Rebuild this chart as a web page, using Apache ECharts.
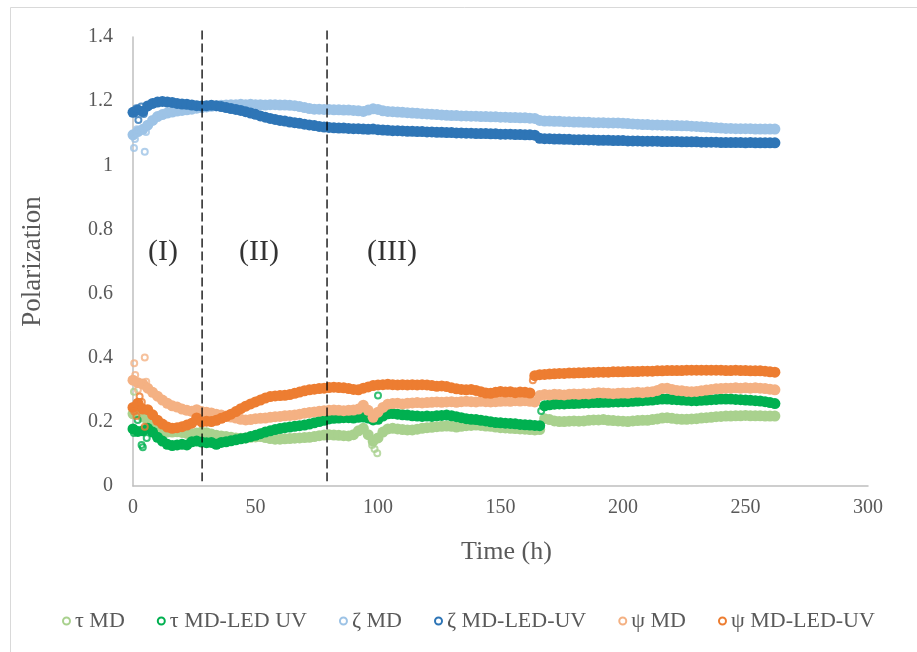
<!DOCTYPE html>
<html>
<head>
<meta charset="utf-8">
<script src="https://cdn.jsdelivr.net/npm/echarts@6/dist/echarts.min.js"></script>
<style>
  html, body { margin: 0; padding: 0; background: #fff; }
  #chart { width: 917px; height: 652px; }
</style>
</head>
<body>
<div id="chart"></div>
<script>
// Sampling times (h) shared by the six polarization traces
const hours = [
  0, 2, 4, 6, 8, 10, 12, 14, 16, 18,
  20, 22, 24, 26, 28, 30, 32, 34, 36, 38,
  40, 42, 44, 46, 48, 50, 52, 54, 56, 58,
  60, 62, 64, 66, 68, 70, 72, 74, 76, 78,
  80, 82, 84, 86, 88, 90, 92, 94, 96, 98,
  100, 102, 104, 106, 108, 110, 112, 114, 116, 118,
  120, 122, 124, 126, 128, 130, 132, 134, 136, 138,
  140, 142, 144, 146, 148, 150, 152, 154, 156, 158,
  160, 162, 164, 166, 168, 170, 172, 174, 176, 178,
  180, 182, 184, 186, 188, 190, 192, 194, 196, 198,
  200, 202, 204, 206, 208, 210, 212, 214, 216, 218,
  220, 222, 224, 226, 228, 230, 232, 234, 236, 238,
  240, 242, 244, 246, 248, 250, 252, 254, 256, 258,
  260, 262
];

// τ MD
const tauMd = [
  0.225, 0.230, 0.215, 0.205, 0.185, 0.176, 0.170, 0.168, 0.168, 0.169,
  0.167, 0.164, 0.163, 0.165, 0.168, 0.166, 0.162, 0.158, 0.156, 0.154,
  0.152, 0.150, 0.149, 0.150, 0.152, 0.153, 0.154, 0.151, 0.148, 0.146,
  0.146, 0.147, 0.148, 0.149, 0.150, 0.151, 0.152, 0.154, 0.157, 0.159,
  0.160, 0.159, 0.158, 0.157, 0.156, 0.160, 0.172, 0.180, 0.160, 0.140,
  0.150, 0.168, 0.178, 0.180, 0.178, 0.176, 0.175, 0.175, 0.177, 0.180,
  0.182, 0.183, 0.185, 0.186, 0.187, 0.186, 0.184, 0.186, 0.188, 0.189,
  0.190, 0.189, 0.187, 0.186, 0.184, 0.182, 0.181, 0.180, 0.179, 0.178,
  0.177, 0.176, 0.175, 0.176, 0.210, 0.207, 0.203, 0.201, 0.201, 0.202,
  0.203, 0.202, 0.203, 0.205, 0.206, 0.206, 0.207, 0.205, 0.204, 0.203,
  0.202, 0.201, 0.203, 0.204, 0.205, 0.205, 0.207, 0.209, 0.212, 0.213,
  0.211, 0.209, 0.208, 0.208, 0.209, 0.210, 0.212, 0.213, 0.214, 0.216,
  0.217, 0.218, 0.218, 0.219, 0.219, 0.220, 0.219, 0.219, 0.219, 0.218,
  0.218, 0.218
];

// τ MD-LED UV
const tauLed = [
  0.178, 0.170, 0.172, 0.180, 0.168, 0.152, 0.140, 0.130, 0.126, 0.128,
  0.130, 0.128, 0.138, 0.140, 0.137, 0.135, 0.136, 0.130, 0.136, 0.138,
  0.141, 0.144, 0.147, 0.150, 0.154, 0.158, 0.163, 0.168, 0.172, 0.176,
  0.179, 0.182, 0.184, 0.186, 0.188, 0.190, 0.193, 0.197, 0.201, 0.205,
  0.209, 0.211, 0.212, 0.213, 0.213, 0.212, 0.214, 0.215, 0.212, 0.206,
  0.208, 0.218, 0.225, 0.226, 0.224, 0.222, 0.221, 0.219, 0.218, 0.217,
  0.218, 0.217, 0.219, 0.220, 0.221, 0.219, 0.216, 0.213, 0.210, 0.208,
  0.207, 0.205, 0.203, 0.200, 0.198, 0.197, 0.196, 0.195, 0.194, 0.192,
  0.191, 0.190, 0.189, 0.188, 0.250, 0.253, 0.255, 0.256, 0.256, 0.257,
  0.257, 0.258, 0.259, 0.259, 0.260, 0.260, 0.261, 0.261, 0.262, 0.262,
  0.263, 0.263, 0.264, 0.265, 0.266, 0.267, 0.268, 0.270, 0.271, 0.271,
  0.270, 0.269, 0.268, 0.267, 0.266, 0.266, 0.267, 0.268, 0.269, 0.270,
  0.271, 0.271, 0.271, 0.270, 0.269, 0.268, 0.267, 0.266, 0.265, 0.263,
  0.260, 0.257
];

// ζ MD
const zetaMd = [
  1.095, 1.105, 1.112, 1.125, 1.140, 1.152, 1.158, 1.163, 1.166, 1.169,
  1.171, 1.173, 1.175, 1.178, 1.180, 1.182, 1.184, 1.185, 1.187, 1.188,
  1.189, 1.189, 1.190, 1.189, 1.190, 1.189, 1.189, 1.188, 1.189, 1.189,
  1.188, 1.188, 1.187, 1.186, 1.183, 1.180, 1.177, 1.175, 1.175, 1.174,
  1.174, 1.173, 1.173, 1.172, 1.172, 1.171, 1.170, 1.168, 1.172, 1.176,
  1.174, 1.170, 1.168, 1.167, 1.166, 1.165, 1.164, 1.163, 1.162, 1.161,
  1.160, 1.159, 1.158, 1.157, 1.156, 1.155, 1.155, 1.154, 1.154, 1.153,
  1.153, 1.152, 1.152, 1.151, 1.151, 1.150, 1.150, 1.149, 1.149, 1.148,
  1.148, 1.147, 1.146, 1.140, 1.138, 1.138, 1.137, 1.137, 1.136, 1.136,
  1.135, 1.135, 1.134, 1.134, 1.133, 1.133, 1.133, 1.132, 1.132, 1.132,
  1.131, 1.130, 1.129, 1.128, 1.127, 1.127, 1.126, 1.126, 1.125, 1.125,
  1.124, 1.124, 1.123, 1.123, 1.122, 1.121, 1.120, 1.119, 1.118, 1.117,
  1.116, 1.115, 1.115, 1.114, 1.114, 1.114, 1.114, 1.113, 1.113, 1.113,
  1.113, 1.113
];

// ζ MD-LED-UV
const zetaLed = [
  1.165, 1.172, 1.168, 1.185, 1.193, 1.197, 1.199, 1.197, 1.196, 1.193,
  1.191, 1.190, 1.188, 1.186, 1.185, 1.186, 1.187, 1.186, 1.183, 1.180,
  1.177, 1.174, 1.171, 1.167, 1.163, 1.159, 1.154, 1.150, 1.146, 1.143,
  1.140, 1.138, 1.135, 1.133, 1.131, 1.128, 1.126, 1.124, 1.121, 1.119,
  1.118, 1.117, 1.116, 1.116, 1.115, 1.114, 1.114, 1.113, 1.112, 1.113,
  1.111, 1.110, 1.109, 1.108, 1.108, 1.107, 1.106, 1.106, 1.105, 1.105,
  1.104, 1.104, 1.103, 1.103, 1.102, 1.102, 1.101, 1.101, 1.100, 1.100,
  1.099, 1.099, 1.099, 1.098, 1.098, 1.097, 1.097, 1.097, 1.096, 1.096,
  1.095, 1.095, 1.094, 1.084, 1.083, 1.083, 1.082, 1.082, 1.081, 1.081,
  1.080, 1.080, 1.080, 1.079, 1.079, 1.078, 1.078, 1.078, 1.077, 1.077,
  1.077, 1.076, 1.076, 1.076, 1.075, 1.075, 1.075, 1.075, 1.074, 1.074,
  1.074, 1.074, 1.073, 1.073, 1.073, 1.073, 1.072, 1.072, 1.072, 1.072,
  1.071, 1.071, 1.071, 1.071, 1.071, 1.070, 1.071, 1.070, 1.070, 1.070,
  1.070, 1.070
];

// ψ MD
const psiMd = [
  0.330, 0.322, 0.318, 0.305, 0.292, 0.280, 0.268, 0.258, 0.250, 0.246,
  0.240, 0.236, 0.233, 0.238, 0.232, 0.230, 0.228, 0.224, 0.221, 0.218,
  0.215, 0.212, 0.208, 0.206, 0.207, 0.210, 0.211, 0.212, 0.214, 0.216,
  0.217, 0.219, 0.220, 0.221, 0.224, 0.227, 0.229, 0.231, 0.233, 0.235,
  0.236, 0.237, 0.236, 0.235, 0.236, 0.237, 0.240, 0.252, 0.236, 0.214,
  0.230, 0.245, 0.255, 0.257, 0.258, 0.256, 0.258, 0.259, 0.260, 0.259,
  0.260, 0.261, 0.262, 0.261, 0.262, 0.263, 0.261, 0.263, 0.264, 0.263,
  0.262, 0.264, 0.263, 0.262, 0.263, 0.264, 0.265, 0.264, 0.266, 0.265,
  0.266, 0.264, 0.262, 0.282, 0.285, 0.284, 0.286, 0.285, 0.284, 0.286,
  0.287, 0.286, 0.288, 0.287, 0.289, 0.291, 0.290, 0.289, 0.288, 0.289,
  0.290, 0.289, 0.291, 0.292, 0.291, 0.293, 0.294, 0.298, 0.304, 0.305,
  0.301, 0.298, 0.297, 0.295, 0.294, 0.295, 0.297, 0.299, 0.301, 0.303,
  0.304, 0.305, 0.305, 0.306, 0.305, 0.306, 0.305, 0.306, 0.305, 0.304,
  0.302, 0.300
];

// ψ MD-LED-UV
const psiLed = [
  0.245, 0.258, 0.240, 0.238, 0.222, 0.205, 0.193, 0.184, 0.180, 0.182,
  0.185, 0.190, 0.196, 0.212, 0.200, 0.202, 0.201, 0.205, 0.211, 0.217,
  0.224, 0.232, 0.241, 0.249, 0.256, 0.262, 0.268, 0.274, 0.279, 0.281,
  0.282, 0.283, 0.285, 0.289, 0.293, 0.297, 0.300, 0.302, 0.304, 0.305,
  0.307, 0.308, 0.307, 0.306, 0.304, 0.301, 0.300, 0.305, 0.309, 0.313,
  0.315, 0.316, 0.317, 0.316, 0.315, 0.316, 0.315, 0.316, 0.315, 0.316,
  0.315, 0.313, 0.311, 0.312, 0.310, 0.306, 0.303, 0.301, 0.300, 0.301,
  0.298, 0.294, 0.290, 0.289, 0.292, 0.295, 0.293, 0.294, 0.291, 0.293,
  0.292, 0.290, 0.344, 0.347, 0.348, 0.349, 0.350, 0.351, 0.351, 0.352,
  0.352, 0.353, 0.353, 0.354, 0.354, 0.355, 0.355, 0.355, 0.356, 0.356,
  0.356, 0.357, 0.357, 0.357, 0.358, 0.358, 0.358, 0.359, 0.359, 0.360,
  0.360, 0.360, 0.360, 0.361, 0.361, 0.361, 0.361, 0.361, 0.361, 0.361,
  0.361, 0.360, 0.360, 0.361, 0.360, 0.360, 0.359, 0.359, 0.359, 0.358,
  0.356, 0.355
];

// Isolated readings that sit away from each trace, as [hour, value]
const tauMdStray = [[0.4, 0.294], [97.6, 0.128], [98.6, 0.115], [99.7, 0.102]];
const tauLedStray = [[0.4, 0.165], [1.9, 0.206], [3.5, 0.128], [4.0, 0.121], [5.6, 0.150], [100.0, 0.282], [166.6, 0.234]];
const zetaMdStray = [[0.4, 1.054], [0.8, 1.082], [1.6, 1.112], [4.8, 1.042], [5.3, 1.104]];
const zetaLedStray = [[0.6, 1.162], [1.4, 1.178], [2.2, 1.141], [3.4, 1.183], [4.4, 1.160]];
const psiMdStray = [[0.5, 0.383], [0.9, 0.346], [2.0, 0.300], [4.8, 0.401], [5.4, 0.325]];
const psiLedStray = [[0.5, 0.232], [1.4, 0.218], [2.7, 0.279], [3.6, 0.262], [4.8, 0.185], [163.2, 0.330]];

const seriesNames = ['τ MD', 'τ MD-LED UV', 'ζ MD', 'ζ MD-LED-UV', 'ψ MD', 'ψ MD-LED-UV'];
const seriesColors = ['#A9D18E', '#00B050', '#9DC3E6', '#2E75B6', '#F4B183', '#ED7D31'];
const traces = [tauMd, tauLed, zetaMd, zetaLed, psiMd, psiLed];
const strays = [tauMdStray, tauLedStray, zetaMdStray, zetaLedStray, psiMdStray, psiLedStray];

// Phase boundaries (h) and phase labels
const phaseBounds = [28.2, 79.2];
const phaseLabels = ['(I)', '(II)', '(III)'];
const phaseLabelPos = [[12.2, 0.728], [51.4, 0.728], [105.7, 0.728]];

const xTickLabels = ['0', '50', '100', '150', '200', '250', '300'];
const yTickLabels = ['0', '0.2', '0.4', '0.6', '0.8', '1', '1.2', '1.4'];

const serif = '"Liberation Serif", "DejaVu Serif", serif';
const grey = '#595959';

const series = [];
traces.forEach((vals, k) => {
  series.push({
    name: seriesNames[k],
    type: 'scatter',
    symbol: 'circle',
    symbolSize: 11,
    itemStyle: { color: seriesColors[k], opacity: 1 },
    data: hours.map((h, i) => [h, vals[i]]),
    z: 2 + k
  });
  series.push({
    name: seriesNames[k],
    type: 'scatter',
    symbol: 'circle',
    symbolSize: 6,
    itemStyle: { color: 'rgba(255,255,255,0)', borderColor: seriesColors[k], borderWidth: 2 },
    data: strays[k],
    z: 2 + k
  });
});

phaseBounds.forEach((b) => {
  series.push({
    type: 'line',
    silent: true,
    clip: false,
    symbol: 'none',
    lineStyle: { color: '#000', width: 1.3, type: [9, 4] },
    data: [[b, 1.42], [b, 0.015]],
    z: 20
  });
});

series.push({
  type: 'scatter',
  silent: true,
  symbolSize: 0,
  data: phaseLabels.map((t, i) => ({ name: t, value: phaseLabelPos[i] })),
  label: {
    show: true,
    position: 'inside',
    formatter: (p) => p.name,
    fontFamily: serif,
    fontSize: 30,
    color: '#000'
  },
  z: 21
});

const chart = echarts.init(document.getElementById('chart'), null, { renderer: 'canvas' });
chart.setOption({
  animation: false,
  backgroundColor: '#fff',
  textStyle: { fontFamily: serif },
  graphic: [{
    type: 'rect',
    shape: { x: 10.5, y: 7.5, width: 940, height: 700 },
    style: { fill: 'none', stroke: '#D9D9D9', lineWidth: 1 },
    silent: true,
    z: -10
  }],
  grid: { left: 133, right: 49, top: 37, bottom: 166, containLabel: false },
  legend: {
    bottom: 15,
    left: 57,
    itemWidth: 7,
    itemHeight: 7,
    itemGap: 32,
    textStyle: { fontFamily: serif, fontSize: 22, color: grey },
    data: seriesNames.map((n, k) => ({
      name: n,
      icon: 'circle',
      itemStyle: { color: '#fff', borderColor: seriesColors[k], borderWidth: 2 }
    }))
  },
  xAxis: {
    type: 'value',
    min: 0, max: 300, interval: 50,
    name: 'Time (h)',
    nameLocation: 'middle',
    nameGap: 53,
    nameTextStyle: { fontFamily: serif, fontSize: 26, color: grey, padding: [0, 0, 0, 12] },
    axisLine: { show: true, lineStyle: { color: '#BFBFBF', width: 1.5 } },
    axisTick: { show: false },
    splitLine: { show: false },
    axisLabel: {
      fontFamily: serif, fontSize: 20, color: grey, margin: 12,
      formatter: (v) => xTickLabels[Math.round(v / 50)]
    }
  },
  yAxis: {
    type: 'value',
    min: 0, max: 1.4, interval: 0.2,
    name: 'Polarization',
    nameLocation: 'middle',
    nameGap: 87,
    nameTextStyle: { fontFamily: serif, fontSize: 27, color: grey },
    axisLine: { show: true, lineStyle: { color: '#BFBFBF', width: 1.5 } },
    axisTick: { show: false },
    splitLine: { show: false },
    axisLabel: {
      fontFamily: serif, fontSize: 20, color: grey, margin: 20,
      formatter: (v) => yTickLabels[Math.round(v / 0.2)]
    }
  },
  series: series
});
</script>
</body>
</html>
